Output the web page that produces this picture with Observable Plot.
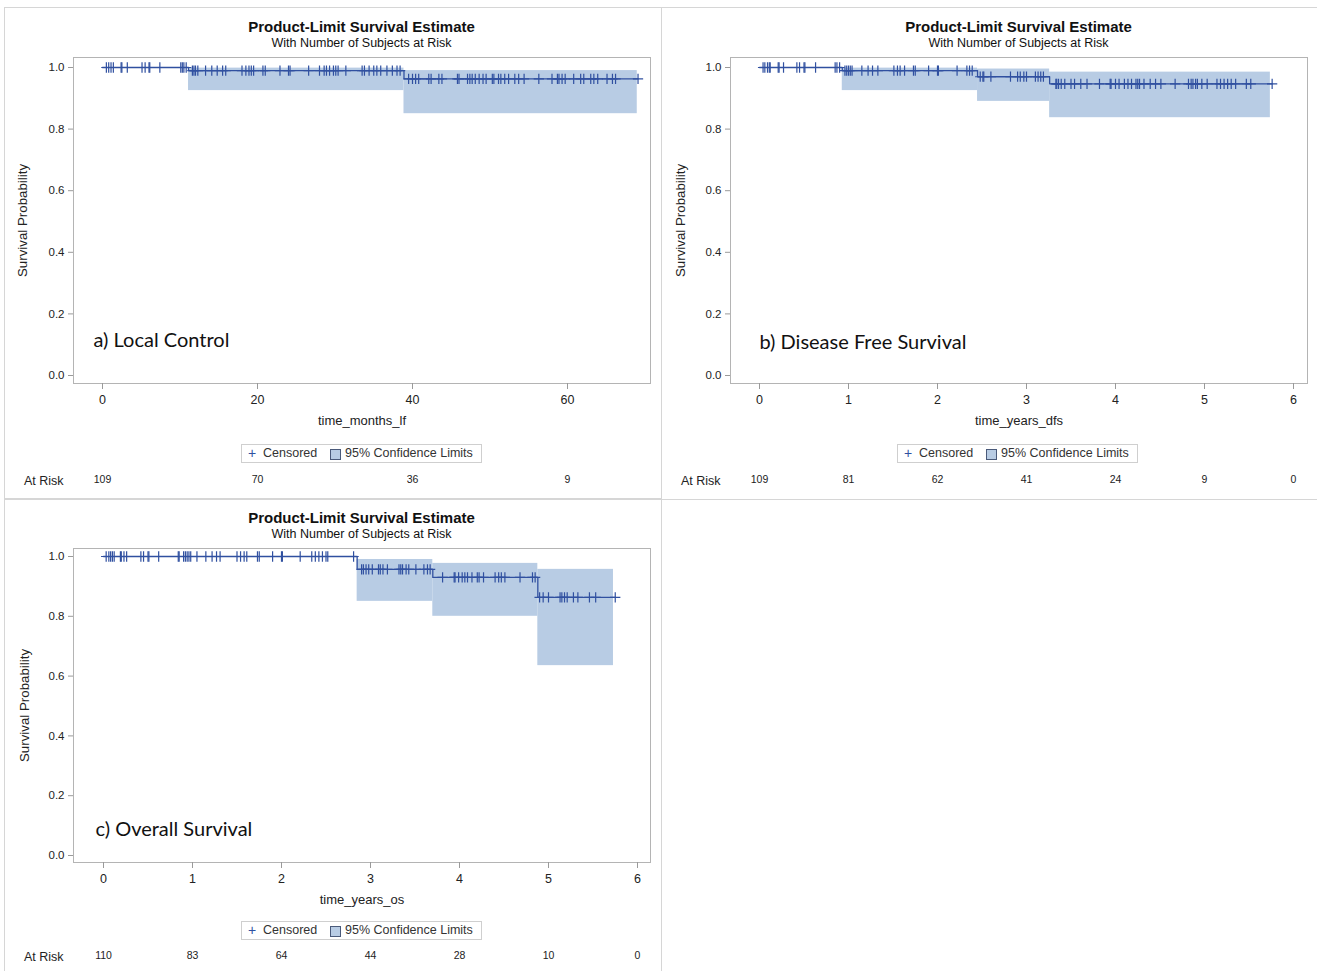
<!DOCTYPE html>
<html><head><meta charset="utf-8">
<script src="https://cdn.jsdelivr.net/npm/d3@7"></script>
<script src="https://cdn.jsdelivr.net/npm/@observablehq/plot@0.6"></script>
<style>
body{margin:0;background:#fff;font-family:"Liberation Sans",Arial,sans-serif;color:#222;}
#page{position:relative;width:1317px;height:971px;overflow:hidden;background:#fff;}
.panel{position:absolute;box-sizing:border-box;border:1px solid #d6d6d6;}
.title{position:absolute;width:577px;text-align:center;font-weight:bold;font-size:15px;line-height:16px;color:#111;}
.subtitle{position:absolute;width:577px;text-align:center;font-size:12.5px;line-height:14px;color:#111;}
.plotwrap{position:absolute;left:0;top:44px;}
.legend{position:absolute;box-sizing:border-box;width:241px;height:19px;border:1px solid #cfcfcf;font-size:12.5px;line-height:17px;color:#333;white-space:nowrap;background:#fff;}
.legend .plus{position:absolute;left:6px;top:0;color:#3050a0;font-size:14px;}
.legend .t1{position:absolute;left:21px;top:0;}
.legend .sq{position:absolute;left:88px;top:4px;width:9px;height:9px;background:#b8cce4;border:1px solid #4a5a7a;}
.legend .t2{position:absolute;left:103px;top:0;}
.atrisk{position:absolute;font-size:12.5px;line-height:14px;color:#222;}
</style>
</head><body>
<div id="page"></div>
<script>
// ---------- data ----------
const yTicks = [0, 0.2, 0.4, 0.6, 0.8, 1.0];

// a) Local Control
const stepTimeA = [0, 11.1, 38.9];
const stepSurvA = [1.0, 0.99, 0.963];
const bandStartA = [11.1, 38.9];
const bandEndA = [38.9, 69.0];
const bandLowA = [0.925, 0.85];
const bandHighA = [0.998, 0.99];
const censorA = [0.5,0.8,1.1,1.4,2.4,2.5,3.2,5.1,5.5,6.0,6.1,7.4,10.1,10.3,10.5,10.8,
  11.6,11.8,12.0,12.3,13.3,14.1,14.8,15.5,15.9,18.0,18.5,18.9,19.2,19.5,20.7,21.0,22.9,24.0,24.2,26.6,
  28.0,28.6,28.9,29.3,29.8,30.1,30.4,31.4,33.5,33.8,34.4,35.0,35.4,35.9,36.7,37.4,38.0,38.4,
  39.5,40.0,40.4,40.8,42.1,42.4,43.4,43.8,45.8,46.0,47.1,47.4,47.7,48.1,48.6,49.1,49.5,50.3,50.5,
  51.1,51.4,51.9,52.4,53.2,53.7,54.4,56.3,58.0,58.7,58.9,59.3,59.7,60.8,61.7,62.1,63.0,63.4,63.9,
  65.1,65.8,66.2,69.1];
const riskTimeA = [0, 20, 40, 60];
const riskNA = [109, 70, 36, 9];
const xTicksA = [0, 20, 40, 60];

// b) Disease Free Survival
const stepTimeB = [0, 0.93, 2.45, 3.26];
const stepSurvB = [1.0, 0.99, 0.97, 0.947];
const bandStartB = [0.93, 2.45, 3.26];
const bandEndB = [2.45, 3.26, 5.74];
const bandLowB = [0.925, 0.89, 0.837];
const bandHighB = [0.998, 0.995, 0.985];
const censorB = [0.04,0.06,0.09,0.11,0.12,0.21,0.22,0.27,0.42,0.45,0.50,0.51,0.63,0.85,0.87,0.90,
  0.96,0.98,1.00,1.02,1.04,1.15,1.22,1.27,1.33,1.51,1.55,1.58,1.63,1.73,1.75,1.90,2.00,2.01,2.22,2.33,2.36,2.39,
  2.48,2.51,2.52,2.60,2.82,2.90,2.93,2.97,3.00,3.10,3.13,3.16,3.19,
  3.33,3.34,3.36,3.39,3.43,3.50,3.54,3.61,3.68,3.82,3.94,3.95,4.00,4.04,4.10,4.14,4.18,4.23,4.25,4.27,
  4.32,4.39,4.45,4.51,4.67,4.82,4.85,4.87,4.90,4.92,4.97,5.03,5.14,5.18,5.22,5.26,5.30,5.35,5.47,5.52,5.76];
const riskTimeB = [0, 1, 2, 3, 4, 5, 6];
const riskNB = [109, 81, 62, 41, 24, 9, 0];
const xTicksB = [0, 1, 2, 3, 4, 5, 6];

// c) Overall Survival
const stepTimeC = [0, 2.85, 3.70, 4.88];
const stepSurvC = [1.0, 0.957, 0.93, 0.863];
const bandStartC = [2.85, 3.70, 4.88];
const bandEndC = [3.70, 4.88, 5.73];
const bandLowC = [0.85, 0.80, 0.635];
const bandHighC = [0.99, 0.977, 0.957];
const censorC = [0.03,0.06,0.08,0.10,0.12,0.19,0.20,0.23,0.26,0.42,0.45,0.50,0.51,0.62,0.84,0.85,0.90,0.92,
  0.94,0.96,0.98,1.05,1.15,1.22,1.27,1.31,1.50,1.54,1.58,1.61,1.73,1.75,1.90,2.00,2.01,2.21,2.34,2.38,2.42,
  2.46,2.50,2.52,2.81,2.90,2.92,2.95,2.98,3.02,3.09,3.11,3.14,3.19,3.32,3.34,3.36,3.40,3.43,3.51,3.60,3.64,3.67,
  3.81,3.94,3.95,3.99,4.03,4.06,4.09,4.14,4.20,4.22,4.27,4.40,4.44,4.47,4.51,4.68,4.82,4.85,
  4.90,4.94,5.00,5.13,5.15,5.18,5.21,5.28,5.33,5.46,5.53,5.75];
const riskTimeC = [0, 1, 2, 3, 4, 5, 6];
const riskNC = [110, 83, 64, 44, 28, 10, 0];
const xTicksC = [0, 1, 2, 3, 4, 5, 6];

const titleText = "Product-Limit Survival Estimate";
const subtitleText = "With Number of Subjects at Risk";
const yLabel = "Survival Probability";

// ---------- drawing ----------
const BLUE = "#3050a0";
const BAND = "#b8cce4";
const FONT = "Liberation Sans, Arial, sans-serif";

function survAt(t, times, surv) {
  let s = surv[0];
  for (let i = 0; i < times.length; i++) if (times[i] <= t) s = surv[i];
  return s;
}

function makePanel(cfg) {
  const page = document.getElementById("page");
  const div = document.createElement("div");
  div.className = "panel";
  Object.assign(div.style, cfg.box);
  page.appendChild(div);

  const t = document.createElement("div");
  t.className = "title"; t.style.top = "11px"; t.style.left = cfg.marginLeft + "px"; t.textContent = titleText;
  div.appendChild(t);
  const st = document.createElement("div");
  st.className = "subtitle"; st.style.top = "28px"; st.style.left = cfg.marginLeft + "px"; st.textContent = subtitleText;
  div.appendChild(st);

  const last = d3.max(cfg.censor);
  const line = cfg.stepTime.map((x, i) => ({t: x, s: cfg.stepSurv[i]}))
    .concat([{t: last, s: cfg.stepSurv[cfg.stepSurv.length - 1]}]);
  const bands = cfg.bandStart.map((x, i) => ({x1: x, x2: cfg.bandEnd[i], y1: cfg.bandLow[i], y2: cfg.bandHigh[i]}));
  const cens = cfg.censor.map(x => ({t: x, s: survAt(x, cfg.stepTime, cfg.stepSurv)}));
  const risk = cfg.riskTime.map((x, i) => ({t: x, n: cfg.riskN[i]}));

  const height = 5 + cfg.frameH + cfg.marginBottom;
  const plot = Plot.plot({
    width: 656,
    height,
    marginTop: 5,
    marginLeft: cfg.marginLeft,
    marginRight: 656 - cfg.marginLeft - 577,
    marginBottom: cfg.marginBottom,
    style: {fontFamily: FONT, color: "#222", background: "transparent", overflow: "visible"},
    x: {domain: cfg.xDomain, insetLeft: cfg.insetLeft, insetRight: cfg.insetRight},
    y: {domain: [0, 1], insetTop: cfg.insetTop, insetBottom: cfg.insetBottom},
    marks: [
      Plot.rect(bands, {x1: "x1", x2: "x2", y1: "y1", y2: "y2", fill: BAND}),
      Plot.frame({stroke: "#b4b4b4"}),
      Plot.axisY({ticks: yTicks, tickFormat: d3.format(".1f"), tickSize: 5, tickPadding: 4, fontSize: 11.5, label: null}),
      Plot.axisX({ticks: cfg.xTicks, tickFormat: d3.format("d"), tickSize: 6, tickPadding: 6, fontSize: 12.5, label: null}),
      Plot.text([cfg.xLabel], {frameAnchor: "bottom", dy: 41, fontSize: 13, fill: "#222"}),
      Plot.text([yLabel], {frameAnchor: "left", dx: cfg.yLabelDx, rotate: -90, textAnchor: "middle", fontSize: 13.3, fill: "#222"}),
      Plot.line(line, {x: "t", y: "s", curve: "step-after", stroke: BLUE, strokeWidth: 1.3}),
      Plot.dot(cens, {x: "t", y: "s", symbol: "plus", r: 3.4, stroke: BLUE, fill: "none", strokeWidth: 1.2}),
      Plot.text([cfg.tag], {frameAnchor: "bottom-left", dx: cfg.tagDx, dy: cfg.tagDy, textAnchor: "start",
        fontSize: 20, fontFamily: "Lato, Open Sans, sans-serif", fill: "#111"}),
      Plot.text(risk, {x: "t", frameAnchor: "bottom", dy: cfg.riskDy, text: "n", fontSize: 10.5, fill: "#222"})
    ]
  });
  d3.select(plot).selectAll('g[aria-label="x-axis tick"], g[aria-label="y-axis tick"]').attr("stroke", "#9a9a9a");

  const wrap = document.createElement("div");
  wrap.className = "plotwrap";
  wrap.appendChild(plot);
  div.appendChild(wrap);

  const lg = document.createElement("div");
  lg.className = "legend";
  lg.style.left = "236px";
  lg.style.top = cfg.legendTop + "px";
  lg.innerHTML = '<span class="plus">+</span><span class="t1">Censored</span><span class="sq"></span><span class="t2">95% Confidence Limits</span>';
  div.appendChild(lg);

  const ar = document.createElement("div");
  ar.className = "atrisk";
  ar.style.left = cfg.atRiskLeft + "px";
  ar.style.top = cfg.atRiskTop + "px";
  ar.textContent = "At Risk";
  div.appendChild(ar);
}

makePanel({
  box: {left: "4px", top: "7px", width: "658px", height: "493px"},
  stepTime: stepTimeA, stepSurv: stepSurvA, bandStart: bandStartA, bandEnd: bandEndA,
  bandLow: bandLowA, bandHigh: bandHighA, censor: censorA, riskTime: riskTimeA, riskN: riskNA,
  xTicks: xTicksA, xDomain: [0, 70], insetLeft: 29, insetRight: 5.5, insetTop: 10, insetBottom: 8,
  marginLeft: 68, frameH: 326, marginBottom: 110, riskDy: 99, xLabel: "time_months_lf",
  yLabelDx: -51, tag: "a) Local Control", tagDx: 20, tagDy: -37, legendTop: 436, atRiskLeft: 19, atRiskTop: 466
});
makePanel({
  box: {left: "661px", top: "7px", width: "657px", height: "493px", borderLeft: "0"},
  stepTime: stepTimeB, stepSurv: stepSurvB, bandStart: bandStartB, bandEnd: bandEndB,
  bandLow: bandLowB, bandHigh: bandHighB, censor: censorB, riskTime: riskTimeB, riskN: riskNB,
  xTicks: xTicksB, xDomain: [0, 6], insetLeft: 29, insetRight: 14, insetTop: 10, insetBottom: 8,
  marginLeft: 69, frameH: 326, marginBottom: 110, riskDy: 99, xLabel: "time_years_dfs",
  yLabelDx: -50, tag: "b) Disease Free Survival", tagDx: 29, tagDy: -35, legendTop: 436, atRiskLeft: 20, atRiskTop: 466
});
makePanel({
  box: {left: "4px", top: "498px", width: "658px", height: "480px"},
  stepTime: stepTimeC, stepSurv: stepSurvC, bandStart: bandStartC, bandEnd: bandEndC,
  bandLow: bandLowC, bandHigh: bandHighC, censor: censorC, riskTime: riskTimeC, riskN: riskNC,
  xTicks: xTicksC, xDomain: [0, 6], insetLeft: 30, insetRight: 13, insetTop: 8, insetBottom: 7,
  marginLeft: 68, frameH: 314, marginBottom: 106, riskDy: 96, xLabel: "time_years_os",
  yLabelDx: -49, tag: "c) Overall Survival", tagDx: 22, tagDy: -27, legendTop: 422, atRiskLeft: 19, atRiskTop: 451
});
</script>
</body></html>
